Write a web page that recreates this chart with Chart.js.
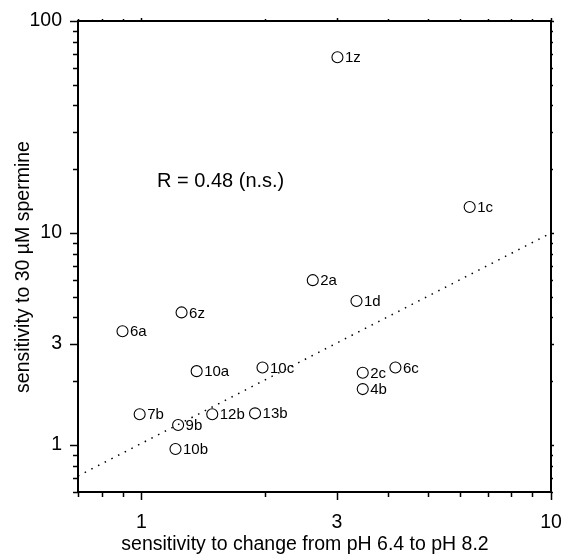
<!DOCTYPE html>
<html><head><meta charset="utf-8">
<script src="https://cdn.jsdelivr.net/npm/chart.js@4.4.1/dist/chart.umd.min.js"></script>
<style>html,body{margin:0;padding:0;background:#fff}</style>
</head><body>
<canvas id="c" width="563" height="560" style="width:563px;height:560px;display:block"></canvas>
<script>
// ---- data ----
const pointLabels = ['1z','1c','2a','1d','10c','2c','6c','4b','13b','6z','6a','10a','7b','9b','12b','10b'];
const xValues     = [3.01, 6.33, 2.62, 3.35, 1.975, 3.47, 4.17, 3.47, 1.894, 1.253, 0.899, 1.364, 0.99, 1.229, 1.489, 1.211];
const yValues     = [67.5, 13.26, 5.99, 4.78, 2.32, 2.19, 2.32, 1.835, 1.41, 4.22, 3.44, 2.23, 1.395, 1.242, 1.395, 0.957];
const fitX = [0.7, 10];
const fitY = [0.714, 10];
const xTickValues = [0.7,0.8,0.9,1,2,3,4,5,6,7,8,9,10];
const yTickValues = [0.6,0.7,0.8,0.9,1,2,3,4,5,6,7,8,9,10,20,30,40,50,60,70,80,90,100];
const xMajorTicks = [1,3,10];
const yMajorTicks = [1,3,10,100];
const annotationText = 'R = 0.48 (n.s.)';
const xTitle = 'sensitivity to change from pH 6.4 to pH 8.2';
const yTitle = 'sensitivity to 30 \u00b5M spermine';

const FONT = '"Liberation Sans", Arial, Helvetica, sans-serif';

const decor = {
  id: 'decor',
  afterDraw(chart) {
    const ctx = chart.ctx, a = chart.chartArea;
    const xs = chart.scales.x, ys = chart.scales.y;
    ctx.save();
    ctx.strokeStyle = '#000';
    ctx.lineWidth = 2;
    ctx.strokeRect(a.left, a.top, a.right - a.left, a.bottom - a.top);
    ctx.lineWidth = 1.5;
    ctx.beginPath();
    xTickValues.forEach(v => {
      const p = Math.round(xs.getPixelForValue(v)) + 0.5;
      const major = xMajorTicks.includes(v);
      ctx.moveTo(p, a.bottom); ctx.lineTo(p, a.bottom + (major ? 8 : 5));
      ctx.moveTo(p, a.top); ctx.lineTo(p, a.top - (major ? 3 : 2));
    });
    yTickValues.forEach(v => {
      const p = Math.round(ys.getPixelForValue(v)) + 0.5;
      const major = yMajorTicks.includes(v);
      ctx.moveTo(a.left, p); ctx.lineTo(a.left - (major ? 8 : 5), p);
      ctx.moveTo(a.right, p); ctx.lineTo(a.right + (major ? 3 : 2), p);
    });
    ctx.stroke();
    // point labels
    const meta = chart.getDatasetMeta(0);
    ctx.fillStyle = '#000';
    ctx.font = '15px ' + FONT;
    ctx.textBaseline = 'middle';
    ctx.textAlign = 'left';
    meta.data.forEach((el, i) => {
      ctx.fillText(pointLabels[i], el.x + 7.5, el.y + 1);
    });
    // annotation
    ctx.font = '20px ' + FONT;
    ctx.textBaseline = 'alphabetic';
    ctx.fillText(annotationText, 157, 187);
    // titles
    ctx.font = '19.5px ' + FONT;
    ctx.textAlign = 'center';
    ctx.fillText(xTitle, 305, 550);
    ctx.save();
    ctx.translate(29, 267);
    ctx.rotate(-Math.PI / 2);
    ctx.fillText(yTitle, 0, 0);
    ctx.restore();
    ctx.restore();
  }
};

function tickSetter(values) {
  return function (scale) { scale.ticks = values.map(v => ({ value: v })); };
}

new Chart(document.getElementById('c'), {
  type: 'scatter',
  data: {
    datasets: [
      {
        data: xValues.map((x, i) => ({ x, y: yValues[i] })),
        pointStyle: 'circle',
        pointRadius: 5.5,
        pointHoverRadius: 5.5,
        borderColor: '#000',
        backgroundColor: 'rgba(0,0,0,0)',
        pointBorderWidth: 1.1
      },
      {
        data: fitX.map((x, i) => ({ x, y: fitY[i] })),
        showLine: true,
        borderColor: '#000',
        borderWidth: 1.5,
        borderDash: [1.5, 6],
        pointRadius: 0,
        fill: false
      }
    ]
  },
  options: {
    responsive: false,
    animation: false,
    devicePixelRatio: 1,
    layout: { padding: { top: 21, right: 12, left: 0, bottom: 0 } },
    plugins: { legend: { display: false }, tooltip: { enabled: false } },
    scales: {
      x: {
        type: 'logarithmic', min: 0.7, max: 10,
        afterBuildTicks: tickSetter(xTickValues),
        afterFit: s => { s.height = 68; s.paddingLeft = 0; s.paddingRight = 0; },
        grid: { display: false },
        border: { display: false },
        ticks: {
          autoSkip: false, maxRotation: 0, padding: 11,
          color: '#000', font: { family: FONT, size: 19.5 },
          callback: v => xMajorTicks.includes(v) ? String(v) : ''
        }
      },
      y: {
        type: 'logarithmic', min: 0.6, max: 100,
        afterBuildTicks: tickSetter(yTickValues),
        afterFit: s => { s.width = 78; s.paddingTop = 0; s.paddingBottom = 0; },
        grid: { display: false },
        border: { display: false },
        ticks: {
          autoSkip: false, padding: 8,
          color: '#000', font: { family: FONT, size: 19.5 },
          callback: v => yMajorTicks.includes(v) ? String(v) : ''
        }
      }
    }
  },
  plugins: [decor]
});
</script>
</body></html>
